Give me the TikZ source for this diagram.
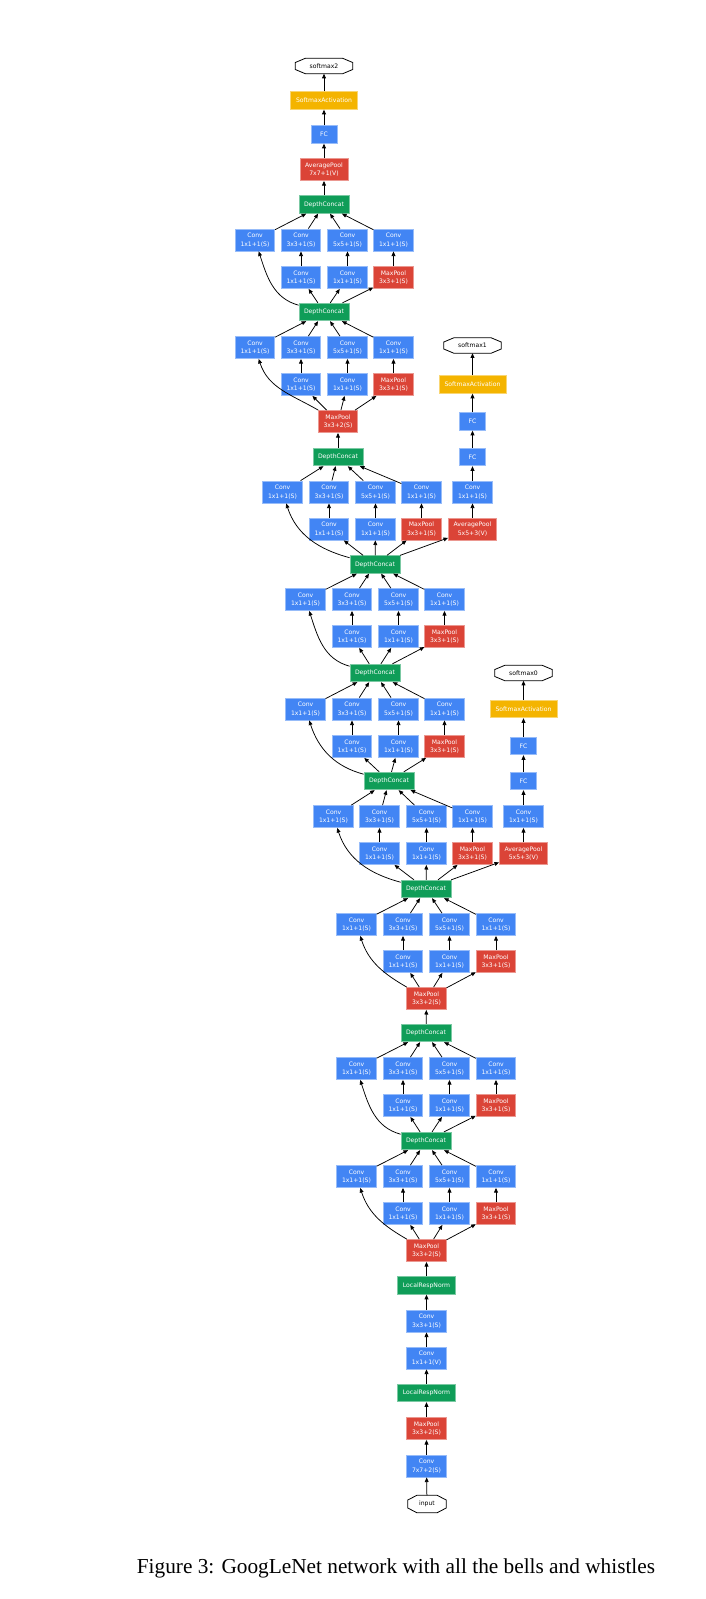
\documentclass[tikz,border=0pt]{standalone}
\usepackage{fontspec}
\setmainfont{Liberation Serif}
\newfontfamily\nodefont{DejaVu Sans}
\usetikzlibrary{arrows.meta}
\definecolor{gblue}{RGB}{66,133,244}
\definecolor{gred}{RGB}{219,68,55}
\definecolor{ggreen}{RGB}{15,157,88}
\definecolor{gyellow}{RGB}{244,180,0}
\tikzset{
 box/.style={rectangle, text=white, font=\nodefont\fontsize{6.1}{8.3}\selectfont, align=center, inner xsep=1pt, inner ysep=1pt, line width=0.8pt},
 twoline/.style={minimum width=39.5pt, minimum height=22pt},
 oneline/.style={minimum height=17.5pt},
 convbox/.style={box, twoline, fill=gblue, draw=gblue!55!white},
 poolbox/.style={box, twoline, fill=gred, draw=gred!55!white},
 catbox/.style={box, oneline, minimum width=50pt, fill=ggreen, draw=ggreen!55!white},
 lrnbox/.style={box, oneline, minimum width=58pt, fill=ggreen, draw=ggreen!55!white},
 fcbox/.style={box, oneline, minimum width=26pt, fill=gblue, draw=gblue!55!white},
 actbox/.style={box, oneline, minimum width=67pt, fill=gyellow, draw=gyellow!55!white},
 avgbox/.style={box, twoline, minimum width=48pt, fill=gred, draw=gred!55!white},
 octnode/.style={rectangle, font=\nodefont\fontsize{6.1}{8.3}\selectfont, text=black, inner sep=0pt, minimum width=57pt, minimum height=15pt},
 edge/.style={line width=0.75pt, draw=black, -{Triangle[length=4.6pt,width=3.8pt]}},
}
\newcommand{\octo}[3]{%
 \draw[line width=0.8pt] ([xshift=#2]#1.north west) -- ([xshift=-#2]#1.north east) -- ([yshift=#3]#1.east) -- ([yshift=-#3]#1.east) -- ([xshift=-#2]#1.south east) -- ([xshift=#2]#1.south west) -- ([yshift=-#3]#1.west) -- ([yshift=#3]#1.west) -- cycle;}
\begin{document}
\begin{tikzpicture}[x=1pt,y=1pt]
\useasboundingbox (0,0) rectangle (706,-1599);
% main spine
\node[octnode] (sm2) at (324,-66) {softmax2};
\node[actbox] (act2) at (324,-100.5) {SoftmaxActivation};
\node[fcbox] (fc2) at (324,-134.5) {FC};
\node[avgbox] (ap2) at (324,-169.5) {AveragePool\\7x7+1(V)};
\node[catbox] (dc9) at (324,-204.5) {DepthConcat};
\node[catbox] (dc8) at (324,-312) {DepthConcat};
\node[poolbox] (mp3) at (338,-421.5) {MaxPool\\3x3+2(S)};
\node[catbox] (dc7) at (338,-457) {DepthConcat};
\node[catbox] (dc6) at (375,-564.5) {DepthConcat};
\node[catbox] (dc5) at (375,-673) {DepthConcat};
\node[catbox] (dc4) at (389,-781) {DepthConcat};
\node[catbox] (dc3) at (426,-889) {DepthConcat};
\node[poolbox] (mp2) at (426.5,-998.5) {MaxPool\\3x3+2(S)};
\node[catbox] (dc2) at (426,-1033) {DepthConcat};
\node[catbox] (dc1) at (426,-1141) {DepthConcat};
\node[poolbox] (mp1) at (426.5,-1250.5) {MaxPool\\3x3+2(S)};
\node[lrnbox] (lrn2) at (426.5,-1285.5) {LocalRespNorm};
\node[convbox] (cv3) at (426.5,-1321) {Conv\\3x3+1(S)};
\node[convbox] (cv2) at (426.5,-1358) {Conv\\1x1+1(V)};
\node[lrnbox] (lrn1) at (426.5,-1393) {LocalRespNorm};
\node[poolbox] (mp0) at (426.5,-1428.5) {MaxPool\\3x3+2(S)};
\node[convbox] (cv1) at (426.5,-1466) {Conv\\7x7+2(S)};
\node[octnode, minimum width=38pt, minimum height=17pt] (inp) at (427,-1504) {input};
\octo{sm2}{10pt}{3.5pt}
\octo{inp}{9pt}{4pt}
% aux classifier 1
\node[octnode] (sm1) at (472.5,-345.5) {softmax1};
\node[actbox] (act1) at (472.5,-384.5) {SoftmaxActivation};
\node[fcbox] (fc1b) at (472.5,-421.5) {FC};
\node[fcbox] (fc1a) at (472.5,-457) {FC};
\node[convbox] (ac1) at (472.5,-492) {Conv\\1x1+1(S)};
\node[avgbox] (ap1) at (472.5,-529) {AveragePool\\5x5+3(V)};
\octo{sm1}{10pt}{3.5pt}
% aux classifier 0
\node[octnode] (sm0) at (523.5,-673) {softmax0};
\node[actbox] (act0) at (523.5,-709) {SoftmaxActivation};
\node[fcbox] (fc0b) at (523.5,-746) {FC};
\node[fcbox] (fc0a) at (523.5,-781) {FC};
\node[convbox] (ac0) at (523.5,-816.5) {Conv\\1x1+1(S)};
\node[avgbox] (ap0) at (523.5,-853.5) {AveragePool\\5x5+3(V)};
\octo{sm0}{10pt}{3.5pt}
% inception modules
\foreach \m/\ya/\yb/\xa/\xb/\xc/\xd in {
 1/1176.5/1213.5/356.5/403/449.5/496,
 2/1068.5/1105.5/356.5/403/449.5/496,
 3/924.5/961.5/356.5/403/449.5/496,
 4/816.5/853.5/333.5/379.5/426.5/472.5,
 5/709/746.5/305.5/352/398.5/444.5,
 6/599.5/636.5/305.5/352/398.5/444.5,
 7/492/529/282.5/329/375.5/421.5,
 8/347.5/384.5/255/301/347.5/393.5,
 9/240/277.5/255/301/347.5/393.5}{
 \node[convbox] (m\m-a) at (\xa,-\ya) {Conv\\1x1+1(S)};
 \node[convbox] (m\m-b) at (\xb,-\ya) {Conv\\3x3+1(S)};
 \node[convbox] (m\m-c) at (\xc,-\ya) {Conv\\5x5+1(S)};
 \node[convbox] (m\m-d) at (\xd,-\ya) {Conv\\1x1+1(S)};
 \node[convbox] (m\m-e) at (\xb,-\yb) {Conv\\1x1+1(S)};
 \node[convbox] (m\m-f) at (\xc,-\yb) {Conv\\1x1+1(S)};
 \node[poolbox] (m\m-g) at (\xd,-\yb) {MaxPool\\3x3+1(S)};
}
\foreach \m/\B/\T/\o in {1/mp1/dc1/150, 2/dc1/dc2/165, 3/mp2/dc3/150, 4/dc3/dc4/165, 5/dc4/dc5/165, 6/dc5/dc6/165, 7/dc6/dc7/165, 8/mp3/dc8/150, 9/dc8/dc9/165}{
 \draw[edge] (\B) to[out=\o,in=-72] (m\m-a);
 \draw[edge] (\B) -- (m\m-e);
 \draw[edge] (\B) -- (m\m-f);
 \draw[edge] (\B) -- (m\m-g);
 \draw[edge] (m\m-e) -- (m\m-b);
 \draw[edge] (m\m-f) -- (m\m-c);
 \draw[edge] (m\m-g) -- (m\m-d);
 \draw[edge] (m\m-a) -- (\T);
 \draw[edge] (m\m-b) -- (\T);
 \draw[edge] (m\m-c) -- (\T);
 \draw[edge] (m\m-d) -- (\T);
}
% chains
\draw[edge] (inp) -- (cv1);
\draw[edge] (cv1) -- (mp0);
\draw[edge] (mp0) -- (lrn1);
\draw[edge] (lrn1) -- (cv2);
\draw[edge] (cv2) -- (cv3);
\draw[edge] (cv3) -- (lrn2);
\draw[edge] (lrn2) -- (mp1);
\draw[edge] (dc2) -- (mp2);
\draw[edge] (dc7) -- (mp3);
\draw[edge] (dc9) -- (ap2);
\draw[edge] (ap2) -- (fc2);
\draw[edge] (fc2) -- (act2);
\draw[edge] (act2) -- (sm2);
\draw[edge] (dc6) -- (ap1);
\draw[edge] (ap1) -- (ac1);
\draw[edge] (ac1) -- (fc1a);
\draw[edge] (fc1a) -- (fc1b);
\draw[edge] (fc1b) -- (act1);
\draw[edge] (act1) -- (sm1);
\draw[edge] (dc3) -- (ap0);
\draw[edge] (ap0) -- (ac0);
\draw[edge] (ac0) -- (fc0a);
\draw[edge] (fc0a) -- (fc0b);
\draw[edge] (fc0b) -- (act0);
\draw[edge] (act0) -- (sm0);
% caption
\node[font=\fontsize{21.3}{25}\selectfont, anchor=base, inner sep=0pt] (cap) at (396,-1573) {Figure 3: GoogLeNet network with all the bells and whistles};
\end{tikzpicture}
\end{document}
